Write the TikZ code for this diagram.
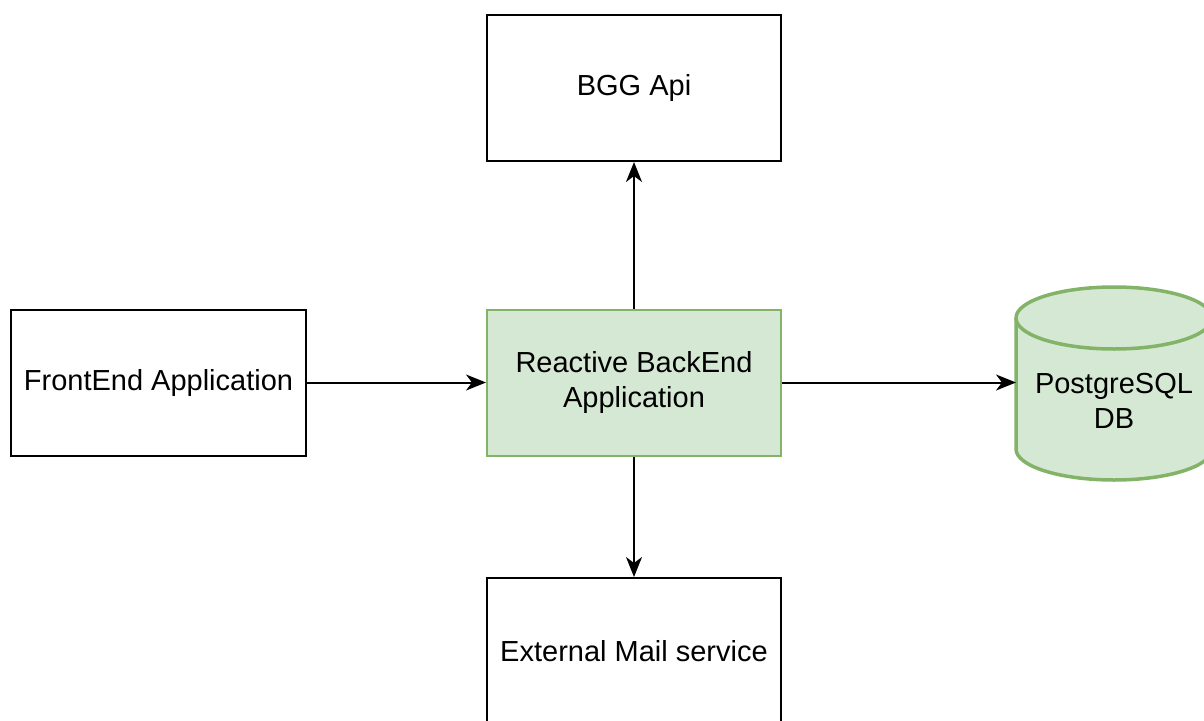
\documentclass[tikz,border=0pt]{standalone}
\usepackage{fontspec}
\setmainfont{Liberation Sans}
\usetikzlibrary{arrows.meta}
\definecolor{gfill}{HTML}{D5E8D4}
\definecolor{gline}{HTML}{82B366}
\begin{document}
\begin{tikzpicture}[x=1pt,y=-1pt,
  box/.style={draw=black,line width=2pt,fill=white,minimum width=294pt,minimum height=146pt,inner sep=0pt,align=center,font=\fontsize{29}{35}\selectfont},
  greenbox/.style={box,draw=gline,fill=gfill},
  conn/.style={line width=2pt,-{Stealth[length=20pt,width=16pt,inset=6pt]}}]
\useasboundingbox (0,0) rectangle (1204,720);
\fill[white] (0,0) rectangle (1204,720);
\node[box] (bgg) at (634,88) {BGG Api};
\node[box,minimum width=295pt] (fe) at (158.5,382.5) {FrontEnd Application};
\node[greenbox] (rb) at (634,382.5) {Reactive BackEnd\\Application};
\node[box] (mail) at (634,651) {External Mail service};
% cylinder
\path[draw=gline,fill=gfill,line width=3.5pt]
  (1016,318) -- (1016,449) arc[start angle=180,end angle=0,x radius=98,y radius=31]
  -- (1212,318) arc[start angle=0,end angle=-180,x radius=98,y radius=31] -- cycle;
\draw[gline,line width=3.5pt] (1016,318) arc[start angle=180,end angle=0,x radius=98,y radius=31];
\node[minimum width=196pt,minimum height=10pt,inner sep=0pt,align=center,font=\fontsize{29}{35}\selectfont] (db) at (1114,401) {PostgreSQL\\DB};
\coordinate (dbw) at (1016,382.5);
\draw[conn] (fe) -- (rb);
\draw[conn] (rb.north) -- (bgg.south);
\draw[conn] (rb.south) -- (mail.north);
\draw[conn] (rb.east) -- (dbw);
\end{tikzpicture}
\end{document}
